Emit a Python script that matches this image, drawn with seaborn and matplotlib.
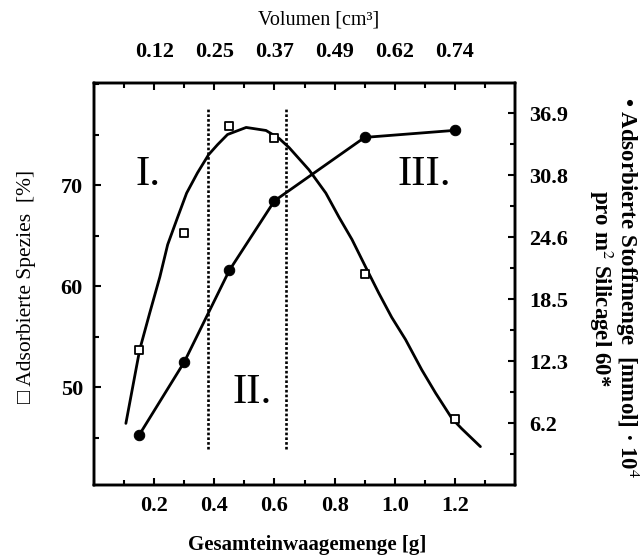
import matplotlib
matplotlib.use("Agg")
import matplotlib.pyplot as plt
import seaborn as sns
import pandas as pd
from matplotlib.ticker import MultipleLocator, FixedLocator

# ---- data ----
mass_sq = [0.15, 0.30, 0.45, 0.60, 0.90, 1.20]
species_pct = [53.7, 65.2, 75.8, 74.7, 61.2, 46.8]

curve_x = [0.106, 0.152, 0.185, 0.219, 0.245, 0.278, 0.308, 0.344, 0.381,
           0.411, 0.444, 0.506, 0.572, 0.616, 0.649, 0.715, 0.771, 0.815, 0.858,
           0.903, 0.947, 0.99, 1.036, 1.09, 1.136, 1.19, 1.222, 1.285]
curve_y = [46.4, 53.7, 57.3, 60.9, 64.1, 66.8, 69.2, 71.2, 73.0,
           74.0, 75.0, 75.7, 75.4, 74.6, 73.7, 71.5, 69.2, 66.8, 64.6,
           61.9, 59.3, 56.9, 54.7, 51.7, 49.4, 46.9, 45.9, 44.1]

mass_circ = [0.15, 0.30, 0.45, 0.60, 0.90, 1.20]
amount = [4.95, 12.2, 21.3, 28.2, 34.5, 35.2]

bottom_ticks = [0.2, 0.4, 0.6, 0.8, 1.0, 1.2]
bottom_labels = ["0.2", "0.4", "0.6", "0.8", "1.0", "1.2"]
volume_labels = ["0.12", "0.25", "0.37", "0.49", "0.62", "0.74"]
right_ticks = [6.15, 12.3, 18.45, 24.6, 30.75, 36.9]
right_labels = ["6.2", "12.3", "18.5", "24.6", "30.8", "36.9"]
left_ticks = [50, 60, 70]
region_lines = [0.38, 0.64]
region_text = ["I.", "II.", "III."]
region_pos = [(0.179, 70.0), (0.527, 48.4), (1.10, 70.0)]

# ---- style ----
sns.set_style("ticks")
plt.rcParams['font.family'] = ['Liberation Serif', 'DejaVu Serif', 'DejaVu Sans']
plt.rcParams['mathtext.fontset'] = 'stix'
for k in ["text.color", "axes.labelcolor", "xtick.color", "ytick.color", "axes.edgecolor"]:
    plt.rcParams[k] = "black"

fig = plt.figure(figsize=(6.42, 5.59), dpi=100)
ax = fig.add_axes([94/642, 1-485/559, (515-94)/642, (485-83)/559])
axr = ax.twinx()
axt = ax.twiny()

df_sq = pd.DataFrame({"m": mass_sq, "p": species_pct})
df_curve = pd.DataFrame({"m": curve_x, "p": curve_y})
df_c = pd.DataFrame({"m": mass_circ, "a": amount})

sns.lineplot(data=df_curve, x="m", y="p", sort=False, ax=ax, color="black", lw=2.0)
sns.scatterplot(data=df_sq, x="m", y="p", ax=ax, marker="s", s=30,
                facecolor="white", edgecolor="black", linewidth=1.3, zorder=5)
sns.lineplot(data=df_c, x="m", y="a", ax=axr, color="black", lw=2.0,
             marker="o", markersize=7.5, markeredgecolor="black")

for xv in region_lines:
    ax.plot([xv, xv], [43.9, 77.5], color="black", lw=1.9, ls=(0, (1, 0.8)))

for t, (xx, yy) in zip(region_text, region_pos):
    ax.text(xx, yy, t, fontsize=31, ha="center", va="baseline")

ax.set_xlim(0, 1.4)
ax.set_ylim(40.3, 80.1)
axr.set_ylim(0, 39.9)
axt.set_xlim(0, 1.4)

ax.set_xticks(bottom_ticks)
ax.set_xticklabels(bottom_labels)
ax.xaxis.set_minor_locator(MultipleLocator(0.1))
ax.set_yticks(left_ticks)
ax.yaxis.set_minor_locator(MultipleLocator(5))
axt.set_xticks(bottom_ticks)
axt.set_xticklabels(volume_labels)
axt.xaxis.set_minor_locator(MultipleLocator(0.1))
axr.set_yticks(right_ticks)
axr.set_yticklabels(right_labels)
axr.yaxis.set_minor_locator(FixedLocator([t - 3.075 for t in right_ticks] + [36.9 + 3.075]))

ax.set_xlabel("")
ax.set_ylabel("")
axr.set_ylabel("")
axt.set_xlabel("")

for a in (ax, axr, axt):
    for lab in a.get_xticklabels() + a.get_yticklabels():
        lab.set_fontsize(16)
        lab.set_fontweight("bold")
    for sp in a.spines.values():
        sp.set_linewidth(1.7)
        sp.set_visible(True)

ax.tick_params(axis="x", which="both", direction="in", top=False, pad=8)
ax.tick_params(axis="y", which="both", direction="in", right=False, pad=8)
axt.tick_params(axis="x", which="both", direction="in", pad=15)
axr.tick_params(axis="y", which="both", direction="in", pad=10)
for a in (ax, axr, axt):
    a.tick_params(which="major", length=5, width=1.5)
    a.tick_params(which="minor", length=3.5, width=1.5)

fig.text(307/642, 1-545/559, "Gesamteinwaagemenge [g]", fontsize=15, fontweight="bold",
         ha="center", va="center")
fig.text(319/642, 1-20/559, "Volumen [cm³]", fontsize=14.5, ha="center", va="center")
fig.text(27/642, 1-286/559, "□ Adsorbierte Spezies  [%]", fontsize=15.5, rotation=90,
         ha="center", va="center",
         family=['Liberation Serif', 'DejaVu Sans'])
fig.text(614/642, 1-288/559,
         "• Adsorbierte Stoffmenge  [mmol] · 10$^{4}$\npro m$^{2}$ Silicagel 60*",
         fontsize=16.5, fontweight="bold", rotation=-90, ha="center", va="center",
         multialignment="center", linespacing=0.9)

fig.savefig("out.png", dpi=100)
